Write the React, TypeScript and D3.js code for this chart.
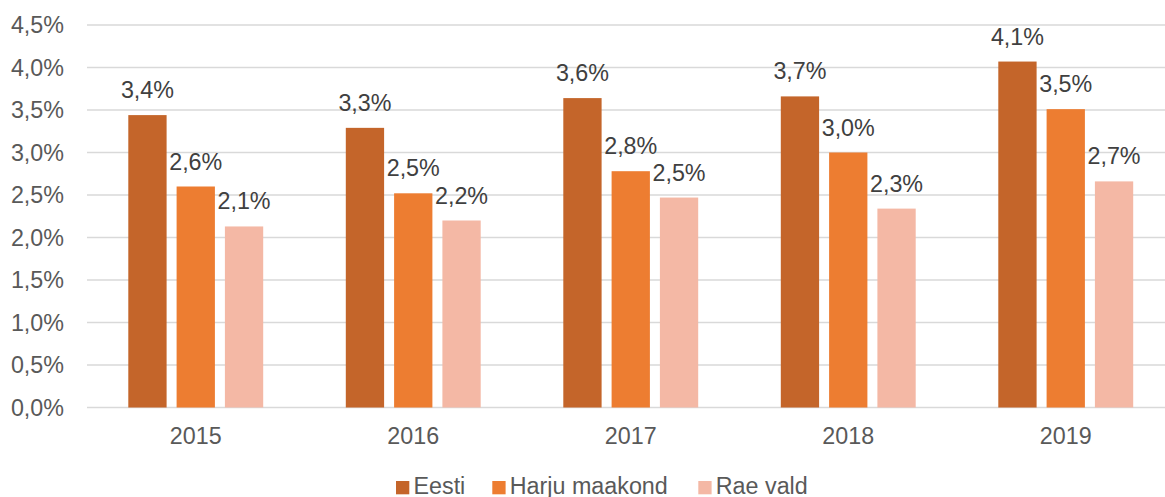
import React from "react";
import * as d3 from "d3";

const years = ["2015", "2016", "2017", "2018", "2019"];
const seriesNames = ["Eesti", "Harju maakond", "Rae vald"];
const eesti = [3.44, 3.29, 3.64, 3.66, 4.07];
const harju = [2.6, 2.52, 2.78, 3.0, 3.51];
const rae = [2.13, 2.2, 2.47, 2.34, 2.66];
const yTicks = [0, 0.5, 1, 1.5, 2, 2.5, 3, 3.5, 4, 4.5];
const colors = ["#C4652A", "#ED7D31", "#F4B8A5"];

const W = 1165;
const H = 497;
const FONT = "'Liberation Sans', Arial, sans-serif";
const FS = 23.3;

export default function App() {
  const series = [eesti, harju, rae];
  const x = d3.scaleBand<string>().domain(years).range([87, 1174.5]).paddingInner(0).paddingOuter(0);
  const y = d3.scaleLinear().domain([0, 4.5]).range([407.5, 25]);
  const barW = 38.3;
  const step = 48.3;
  const fmt = (v: number) => v.toFixed(1).replace(".", ",") + "%";
  const legendX = [396, 492.3, 698.3];

  return (
    <svg width={W} height={H} style={{ position: "absolute", left: 0, top: 0, fontFamily: FONT }}>
      {yTicks.map((t) => (
        <g key={t}>
          <line x1={87} x2={1174.5} y1={y(t)} y2={y(t)} stroke="#D9D9D9" strokeWidth={1.5} />
          <text x={64} y={y(t)} dy="0.35em" textAnchor="end" fontSize={FS} fill="#595959">
            {t.toFixed(1).replace(".", ",") + "%"}
          </text>
        </g>
      ))}
      {years.map((yr, i) => {
        const cx = (x(yr) as number) + x.bandwidth() / 2;
        return (
          <g key={yr}>
            {series.map((s, j) => {
              const bx = cx + (j - 1) * step - barW / 2;
              return (
                <g key={j}>
                  <rect x={bx} y={y(s[i])} width={barW} height={y(0) - y(s[i])} fill={colors[j]} />
                  <text x={bx + barW / 2} y={y(s[i]) - 17} textAnchor="middle" fontSize={FS} fill="#404040">
                    {fmt(s[i])}
                  </text>
                </g>
              );
            })}
            <text x={cx} y={443.5} textAnchor="middle" fontSize={FS} fill="#595959">
              {yr}
            </text>
          </g>
        );
      })}
      {seriesNames.map((n, j) => (
        <g key={n}>
          <rect x={legendX[j]} y={481} width={13.3} height={13.3} fill={colors[j]} />
          <text x={legendX[j] + 17.5} y={493.5} fontSize={FS} fill="#595959">
            {n}
          </text>
        </g>
      ))}
    </svg>
  );
}
